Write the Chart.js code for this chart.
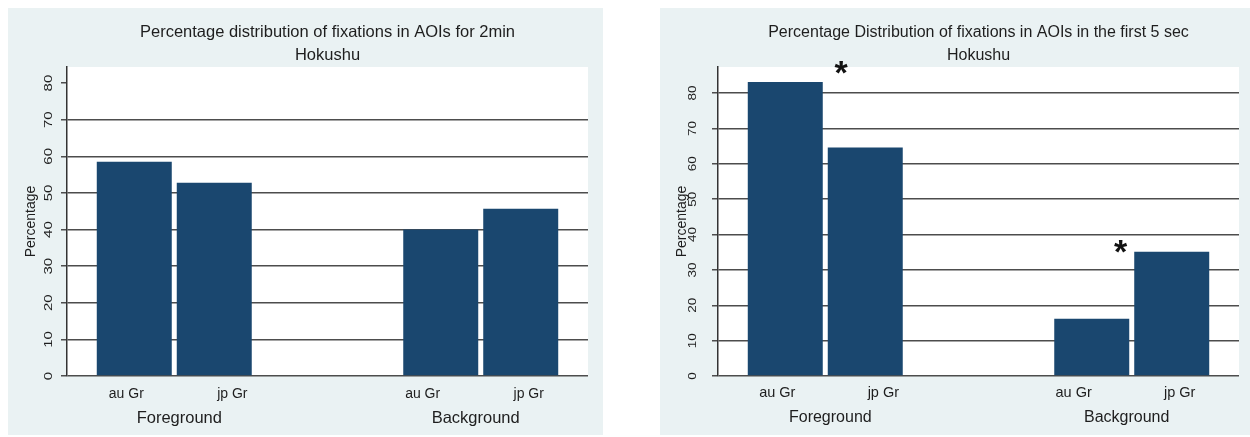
<!DOCTYPE html>
<html><head><meta charset="utf-8">
<script src="https://cdn.jsdelivr.net/npm/chart.js@4.4.1/dist/chart.umd.min.js"></script>
<style>
html,body{margin:0;padding:0;background:#fff;width:1250px;height:437px;overflow:hidden}
.panel{position:absolute;top:8px;height:427px;background:#eaf2f3}
#p1{left:8px;width:595px}
#p2{left:660px;width:590px}
canvas{display:block}
</style></head><body>
<div class="panel" id="p1"><canvas id="c1" width="595" height="427"></canvas></div>
<div class="panel" id="p2"><canvas id="c2" width="590" height="427"></canvas></div>
<script>
// ---- data ----
const groups = ['Foreground', 'Background'];
const seriesNames = ['au Gr', 'jp Gr'];
const yTicks = [0, 10, 20, 30, 40, 50, 60, 70, 80];
const yTitle = 'Percentage';

const title2min = ['Percentage distribution of fixations in AOIs for 2min', 'Hokushu'];
const auGr2min = [58.5, 40.0];
const jpGr2min = [52.8, 45.7];

const title5s = ['Percentage Distribution of fixations in AOIs in the first 5 sec', 'Hokushu'];
const auGr5s = [83.1, 16.2];
const jpGr5s = [64.6, 35.1];
const starX = [0.052, 0.964];
const starY = [87.2, 36.5];

// ---- drawing ----
const FONT = '"Liberation Sans", Arial, sans-serif';
const BAR = '#1a476f';
const GRID = '#4d4d4d';
const TXT = '#1e1e1e';

const decor = {
  id: 'decor',
  beforeDraw(chart) {
    const a = chart.chartArea, ctx = chart.ctx;
    ctx.save(); ctx.fillStyle = '#ffffff';
    ctx.fillRect(a.left, a.top, a.right - a.left, a.bottom - a.top);
    ctx.restore();
  },
  afterDraw(chart, args, o) {
    const ctx = chart.ctx, xs = chart.scales.x, ys = chart.scales.y;
    ctx.save();
    ctx.fillStyle = TXT;
    // rotated y tick labels
    ctx.font = o.tickSize + 'px ' + FONT;
    ctx.textAlign = 'center'; ctx.textBaseline = 'middle';
    yTicks.forEach(v => {
      const y = ys.getPixelForValue(v);
      ctx.save();
      ctx.translate(o.tickX, y);
      ctx.scale(o.tickSX, 1);
      ctx.rotate(-Math.PI / 2);
      ctx.fillText(String(v), 0, 0);
      ctx.restore();
    });
    // category labels
    ctx.textBaseline = 'alphabetic';
    groups.forEach((g, i) => {
      const c = i + (0.5 - i) * 0.033;
      ctx.font = o.subSize + 'px ' + FONT;
      seriesNames.forEach((s, k) => {
        const xv = c + (k === 0 ? -0.173 : 0.173);
        ctx.fillText(s, xs.getPixelForValue(xv), o.subY);
      });
      ctx.font = o.grpSize + 'px ' + FONT;
      ctx.fillText(g, xs.getPixelForValue(c), o.grpY);
    });
    // significance stars
    if (o.stars) {
      ctx.font = 'bold 34px ' + FONT;
      ctx.fillStyle = '#111';
      const m = ctx.measureText('*');
      const A = m.actualBoundingBoxAscent, D = m.actualBoundingBoxDescent;
      o.stars.x.forEach((xv, i) => {
        const px = xs.getPixelForValue(xv), py = ys.getPixelForValue(o.stars.y[i]);
        ctx.fillText('*', px, py + (A - D) / 2);
      });
    }
    ctx.restore();
  }
};

function makeChart(id, title, au, jp, p) {
  return new Chart(document.getElementById(id), {
    type: 'bar',
    data: {
      datasets: [
        { label: seriesNames[0], data: au.map((v, i) => ({ x: i, y: v })) },
        { label: seriesNames[1], data: jp.map((v, i) => ({ x: i, y: v })) }
      ].map(d => Object.assign(d, {
        backgroundColor: BAR, borderWidth: 0,
        categoryPercentage: 0.522, barPercentage: 0.9375
      }))
    },
    options: {
      responsive: false, animation: false, devicePixelRatio: 1,
      layout: { padding: { left: 0, right: p.padRight, top: 0, bottom: 59 } },
      plugins: {
        legend: { display: false }, tooltip: { enabled: false },
        title: {
          display: true, text: title, fullSize: false, color: TXT,
          font: { family: FONT, size: p.titleSize, weight: 'normal', lineHeight: 23 / p.titleSize },
          padding: { top: 13, bottom: 0 }
        },
        decor: p.decor
      },
      scales: {
        x: {
          type: 'linear', display: false, offset: false, min: -0.35, max: 1.35,
          afterBuildTicks: s => { s.ticks = groups.map((g, i) => ({ value: i })); }
        },
        y: {
          min: 0, max: p.ymax,
          afterBuildTicks: s => { s.ticks = yTicks.map(v => ({ value: v })); },
          afterFit: s => { s.width = p.plotLeft; },
          ticks: { display: false },
          grid: {
            color: c => (p.hideTop && c.tick && c.tick.value === 80) ? 'rgba(0,0,0,0)' : GRID,
            lineWidth: 1.5, tickLength: 6, tickColor: GRID, drawTicks: true
          },
          border: { color: '#333', width: 1.5 },
          title: {
            display: true, text: yTitle, color: TXT,
            font: { family: FONT, size: 14 }, padding: { top: p.yTitlePad, bottom: 0 }
          }
        }
      }
    },
    plugins: [decor]
  });
}

makeChart('c1', title2min, auGr2min, jpGr2min, {
  ymax: 84.4, plotLeft: 59, padRight: 15, hideTop: true, yTitlePad: 14.6, titleSize: 16.5,
  decor: { tickSize: 15, tickSX: 0.75, tickX: 40.5, subSize: 14, subY: 390, grpSize: 16.5, grpY: 415 }
});
makeChart('c2', title5s, auGr5s, jpGr5s, {
  ymax: 87.35, plotLeft: 58, padRight: 11, hideTop: false, yTitlePad: 13.6, titleSize: 16,
  decor: { tickSize: 13.5, tickSX: 0.85, tickX: 32.5, subSize: 14.5, subY: 389, grpSize: 16, grpY: 414,
           stars: { x: starX, y: starY } }
});
</script>
</body></html>
